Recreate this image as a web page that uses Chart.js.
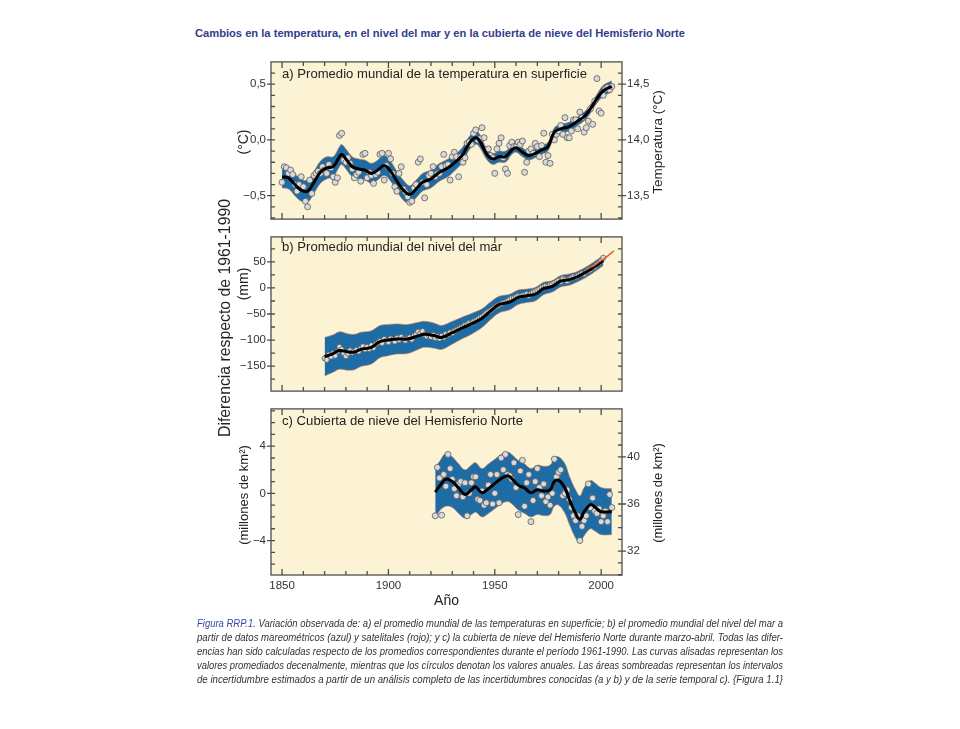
<!DOCTYPE html>
<html>
<head>
<meta charset="utf-8">
<script src="https://cdn.jsdelivr.net/npm/chart.js@4.4.1/dist/chart.umd.min.js"></script>
<style>
  body { margin: 0; background: #fff; width: 960px; height: 729px; position: relative; overflow: hidden; font-family: "Liberation Sans", Arial, sans-serif; }
  canvas { position: absolute; }
  .txt { position: absolute; white-space: nowrap; transform-origin: 0 50%; }
  .rot { position: absolute; white-space: nowrap; color: #222; transform: translate(-50%, -50%) rotate(-90deg); }
  #title { left: 195px; top: 27px; font-size: 11.5px; font-weight: bold; color: #2f3d8c; }
  .ptitle { font-size: 13.5px; color: #222; }
  .cap { font-size: 10px; font-style: italic; color: #333; left: 197px; }
  .cap b { font-weight: normal; color: #3646a0; }
</style>
</head>
<body>
<div id="title" class="txt" data-w="490">Cambios en la temperatura, en el nivel del mar y en la cubierta de nieve del Hemisferio Norte</div>

<canvas id="chartA" width="520" height="181" style="left:180px;top:50px"></canvas>
<canvas id="chartB" width="520" height="178" style="left:180px;top:225px"></canvas>
<canvas id="chartC" width="520" height="223" style="left:180px;top:397px"></canvas>

<div class="txt ptitle" data-w="305" style="left:282px;top:66px">a) Promedio mundial de la temperatura en superficie</div>
<div class="txt ptitle" data-w="220" style="left:282px;top:239px">b) Promedio mundial del nivel del mar</div>
<div class="txt ptitle" data-w="241" style="left:282px;top:413px">c) Cubierta de nieve del Hemisferio Norte</div>

<div class="rot" style="left:225px;top:318px;font-size:15.8px">Diferencia respecto de 1961-1990</div>
<div class="rot" style="left:243px;top:142px;font-size:14px">(°C)</div>
<div class="rot" style="left:243px;top:284px;font-size:14px">(mm)</div>
<div class="rot" style="left:243px;top:495px;font-size:13px">(millones de km²)</div>
<div class="rot" style="left:657px;top:142px;font-size:13.5px">Temperatura (°C)</div>
<div class="rot" style="left:657px;top:493px;font-size:13px">(millones de km²)</div>

<div class="txt cap" data-w="586" style="top:618px"><b>Figura RRP.1.</b> Variación observada de: a) el promedio mundial de las temperaturas en superficie; b) el promedio mundial del nivel del mar a</div>
<div class="txt cap" data-w="586" style="top:632px">partir de datos mareométricos (azul) y satelitales (rojo); y c) la cubierta de nieve del Hemisferio Norte durante marzo-abril. Todas las difer-</div>
<div class="txt cap" data-w="586" style="top:646px">encias han sido calculadas respecto de los promedios correspondientes durante el período 1961-1990. Las curvas alisadas representan los</div>
<div class="txt cap" data-w="586" style="top:660px">valores promediados decenalmente, mientras que los círculos denotan los valores anuales. Las áreas sombreadas representan los intervalos</div>
<div class="txt cap" data-w="586" style="top:674px">de incertidumbre estimados a partir de un análisis completo de las incertidumbres conocidas (a y b) y de la serie temporal c). {Figura 1.1}</div>

<script>
// ---- shared axis ----
const decadeTicks = [1850, 1860, 1870, 1880, 1890, 1900, 1910, 1920, 1930, 1940, 1950, 1960, 1970, 1980, 1990, 2000];
const yearLabels = [1850, 1900, 1950, 2000];

// ---- a) temperature (°C, vs 1961-1990) ----
const tempStart = 1850;
const tempAnnual = [
  -0.38, -0.24, -0.25, -0.30, -0.27, -0.31, -0.40, -0.46, -0.40, -0.33,
  -0.42, -0.55, -0.60, -0.36, -0.48, -0.32, -0.30, -0.28, -0.30, -0.24,
  -0.27, -0.30, -0.22, -0.25, -0.33, -0.38, -0.34, 0.04, 0.06, -0.18,
  -0.20, -0.16, -0.21, -0.26, -0.34, -0.31, -0.29, -0.37, -0.13, -0.12,
  -0.34, -0.29, -0.32, -0.39, -0.31, -0.29, -0.13, -0.12, -0.36, -0.23,
  -0.12, -0.17, -0.30, -0.42, -0.46, -0.30, -0.24, -0.44, -0.47, -0.51,
  -0.56, -0.55, -0.43, -0.40, -0.20, -0.17, -0.38, -0.52, -0.40, -0.32,
  -0.30, -0.24, -0.33, -0.30, -0.30, -0.24, -0.13, -0.23, -0.22, -0.36,
  -0.15, -0.11, -0.15, -0.33, -0.15, -0.20, -0.16, -0.03, -0.02, -0.04,
  0.06, 0.09, 0.00, 0.01, 0.11, 0.02, -0.09, -0.08, -0.14, -0.16,
  -0.30, -0.08, -0.03, 0.02, -0.16, -0.26, -0.30, -0.05, -0.02, -0.06,
  -0.06, -0.02, -0.04, -0.01, -0.29, -0.20, -0.10, -0.08, -0.12, -0.03,
  -0.06, -0.15, -0.05, 0.06, -0.20, -0.14, -0.21, 0.05, 0.00, 0.05,
  0.08, 0.13, 0.05, 0.20, 0.02, 0.02, 0.08, 0.18, 0.18, 0.10,
  0.25, 0.20, 0.07, 0.11, 0.17, 0.28, 0.14, 0.35, 0.55, 0.26,
  0.24, 0.40, 0.46, 0.47, 0.45, 0.48
];
const tempYears = [1850, 1853, 1856, 1859, 1862, 1865, 1868, 1871, 1874, 1877, 1878, 1880, 1883, 1886, 1889, 1892, 1895, 1898,
  1901, 1904, 1907, 1910, 1913, 1916, 1920, 1924, 1928, 1932, 1935, 1938, 1941, 1943, 1946, 1949, 1952, 1955, 1958, 1960,
  1963, 1966, 1969, 1972, 1975, 1978, 1981, 1985, 1989, 1992, 1995, 1998, 2001, 2005];
const tempSmooth = [-0.33, -0.34, -0.40, -0.45, -0.46, -0.38, -0.29, -0.25, -0.24, -0.15, -0.13, -0.17, -0.24, -0.26, -0.27, -0.30, -0.27, -0.23,
  -0.28, -0.37, -0.45, -0.49, -0.44, -0.38, -0.35, -0.29, -0.25, -0.19, -0.13, -0.03, 0.02, -0.01, -0.12, -0.17, -0.15, -0.15, -0.09, -0.07,
  -0.11, -0.14, -0.12, -0.09, -0.06, 0.07, 0.10, 0.12, 0.17, 0.21, 0.28, 0.37, 0.44, 0.48];
const tempLow = [-0.43, -0.44, -0.50, -0.55, -0.56, -0.48, -0.39, -0.35, -0.33, -0.24, -0.22, -0.26, -0.33, -0.35, -0.36, -0.39, -0.36, -0.32,
  -0.37, -0.46, -0.54, -0.57, -0.52, -0.46, -0.43, -0.37, -0.33, -0.26, -0.20, -0.09, -0.04, -0.07, -0.17, -0.22, -0.20, -0.20, -0.13, -0.11,
  -0.15, -0.18, -0.16, -0.13, -0.10, 0.03, 0.06, 0.08, 0.13, 0.17, 0.24, 0.33, 0.39, 0.43];
const tempHigh = [-0.23, -0.24, -0.30, -0.35, -0.36, -0.28, -0.19, -0.15, -0.15, -0.06, -0.04, -0.08, -0.15, -0.17, -0.18, -0.21, -0.18, -0.14,
  -0.19, -0.28, -0.36, -0.41, -0.36, -0.30, -0.27, -0.21, -0.17, -0.12, -0.06, 0.03, 0.08, 0.05, -0.07, -0.12, -0.10, -0.10, -0.05, -0.03,
  -0.07, -0.10, -0.08, -0.05, -0.02, 0.11, 0.14, 0.16, 0.21, 0.25, 0.32, 0.41, 0.49, 0.53];
const tempTicks = [-0.5, 0, 0.5];
const tempMinor = [-0.7, -0.6, -0.4, -0.3, -0.2, -0.1, 0.1, 0.2, 0.3, 0.4, 0.6];
const tempAbsTicks = [13.5, 14.0, 14.5];
const tempAbsMinor = [13.3, 13.4, 13.6, 13.7, 13.8, 13.9, 14.1, 14.2, 14.3, 14.4, 14.6];

// ---- b) sea level (mm) ----
const seaStart = 1870;
const seaAnnual = [
  -135, -138, -128, -132, -125, -130, -122, -113, -118, -126,
  -131, -126, -120, -124, -121, -119, -122, -116, -112, -118,
  -113, -117, -110, -115, -108, -105, -102, -106, -98, -101,
  -104, -97, -99, -103, -96, -100, -94, -98, -101, -97,
  -95, -99, -92, -89, -84, -87, -83, -90, -93, -91,
  -94, -90, -96, -93, -97, -92, -95, -88, -90, -85,
  -87, -82, -80, -78, -76, -74, -71, -70, -67, -68,
  -64, -62, -60, -57, -55, -52, -48, -45, -43, -40,
  -37, -35, -33, -31, -28, -27, -25, -22, -20, -19,
  -17, -15, -16, -14, -13, -12, -15, -11, -8, -6,
  -4, -2, 1, 2, 4, 3, 6, 8, 10, 12,
  14, 12, 18, 16, 13, 17, 20, 22, 21, 24,
  26, 28, 27, 31, 33, 35, 38, 40, 45, 48,
  52, 58
];
const seaYears = [1870, 1874, 1877, 1881, 1884, 1887, 1892, 1896, 1900, 1904, 1909, 1914, 1917, 1922, 1925, 1930, 1934,
  1939, 1944, 1948, 1952, 1957, 1961, 1965, 1969, 1973, 1977, 1981, 1985, 1989, 1994, 1998, 2001];
const seaSmooth = [-132, -126, -120, -123, -123, -118, -114, -103, -100, -98, -98, -92, -89, -92, -95, -86, -78,
  -69, -58, -44, -32, -27, -18, -15, -12, -1, 3, 13, 16, 22, 33, 44, 53];
const seaLow = [-169, -162, -156, -158, -157, -151, -146, -134, -130, -127, -126, -118, -114, -116, -118, -108, -99,
  -89, -76, -61, -48, -42, -32, -28, -25, -13, -8, 2, 5, 12, 23, 34, 43];
const seaHigh = [-95, -90, -84, -88, -89, -85, -82, -72, -70, -69, -70, -66, -64, -68, -72, -64, -57,
  -49, -40, -27, -16, -12, -4, -2, 1, 11, 14, 24, 27, 32, 43, 54, 63];
const satYears = [1993, 1995, 1997, 1999, 2001, 2003, 2005, 2006];
const satLevel = [36, 40, 44, 50, 55, 61, 68, 71];
const seaTicks = [-150, -100, -50, 0, 50];
const seaMinor = [-175, -125, -75, -25, 25, 75];
const seaRight = [-175, -150, -125, -100, -75, -50, -25, 0, 25, 50, 75];

// ---- c) snow cover (million km²) ----
const snowStart = 1922;
const snowAnnual = [
  -1.9, 2.2, 1.3, -1.85, 1.6, 0.6, 3.3, 2.1,
  1.2, 0.4, -0.2, 0.8, 1.0, -0.3, 0.9, -1.9, 0.0, 0.9,
  1.4, 1.4, -0.5, -0.6, 0.2, -1.0, -0.8, 0.7, 1.6, -0.9,
  0.0, 1.6, -0.8, 3.0, 2.0, 3.3, 1.6, 1.5, 1.2, 2.6,
  0.5, -1.8, 1.9, 2.8, -1.1, 0.9, 1.6, -2.4, -0.6, 1.0,
  2.1, 0.5, -0.2, 0.8, -0.7, -0.3, -1.0, 0.0, 2.9, 1.4,
  1.8, 2.0, -0.2, 0.0, 0.3, -0.5, -1.2, -1.9, -2.3, -1.9,
  -4.0, -2.8, -2.3, -1.9, 0.8, -1.2, -0.4, -1.5, -1.7, -1.3,
  -2.4, -1.9, -1.5, -2.4, -0.1, -1.2
];
const snowYears = [1922, 1924, 1927, 1930, 1933, 1936, 1939, 1941, 1944, 1947, 1950, 1953, 1956, 1958, 1961, 1964, 1967,
  1970, 1973, 1976, 1978, 1980, 1983, 1985, 1988, 1990, 1992, 1995, 1997, 2000, 2005];
const snowSmooth = [0.1, 0.6, 1.2, 1.0, 0.45, -0.1, 0.3, 0.55, 0.05, 0.4, 0.85, 1.25, 1.5, 1.25, 0.7, 0.45, 0.05,
  0.3, 0.2, 0.3, 1.0, 1.1, 0.45, -0.5, -1.7, -2.2, -1.55, -0.95, -1.15, -1.55, -1.55];
const snowLow = [-2.1, -1.5, -1.1, -1.2, -1.7, -2.1, -1.8, -1.6, -2.0, -1.7, -1.3, -0.9, -0.7, -0.9, -1.4, -1.7, -2.0,
  -1.8, -1.9, -1.8, -1.1, -1.0, -1.7, -2.6, -3.8, -4.2, -3.6, -3.0, -3.2, -3.5, -3.5];
const snowHigh = [2.2, 2.7, 3.4, 3.1, 2.5, 2.0, 2.4, 2.6, 2.1, 2.5, 2.9, 3.3, 3.5, 3.3, 2.8, 2.5, 2.1,
  2.4, 2.3, 2.4, 3.0, 3.1, 2.5, 1.5, 0.3, -0.2, 0.5, 1.1, 0.9, 0.5, 0.4];
const snowTicks = [-4, 0, 4];
const snowMinor = [-6, -5, -3, -2, -1, 1, 2, 3, 5, 6, 7];
const snowAbsTicks = [32, 36, 40];
const snowAbsMinor = [30, 31, 33, 34, 35, 37, 38, 39, 41, 42, 43];

// ---- style ----
const xMin = 1844.8, xMax = 2009.8;
const cream = '#fcf3d4';
const bandBlue = '#1d6ca6';
const bandEdge = 'rgba(215,125,85,0.75)';
const inkColor = '#333';
const tickFont = { family: '"Liberation Sans", Arial, sans-serif', size: 11.5 };

const pts = (xs, ys) => xs.map((x, i) => ({ x: x, y: ys[i] }));
const annual = (start, ys) => ys.map((y, i) => ({ x: start + i, y: y }));
const minus = s => s.replace('-', '\u2212');
const comma1 = v => minus(Number(v).toFixed(1).replace('.', ','));
const plain = v => minus(String(v));

function frame(cfg) {
  return {
    id: 'frame',
    beforeDraw(chart) {
      const { ctx, chartArea: a } = chart;
      ctx.save();
      ctx.fillStyle = cream;
      ctx.fillRect(a.left, a.top, a.right - a.left, a.bottom - a.top);
      ctx.restore();
    },
    afterDraw(chart) {
      const { ctx, chartArea: a, scales } = chart;
      ctx.save();
      ctx.strokeStyle = '#4d4d4d';
      ctx.lineWidth = 1.3;
      ctx.strokeRect(a.left, a.top, a.right - a.left, a.bottom - a.top);
      ctx.beginPath();
      decadeTicks.forEach(yr => {
        const x = scales.x.getPixelForValue(yr);
        const len = yr % 50 === 0 ? 6 : 4;
        ctx.moveTo(x, a.top); ctx.lineTo(x, a.top + len);
        ctx.moveTo(x, a.bottom); ctx.lineTo(x, a.bottom - len);
      });
      cfg.leftMajor.forEach(v => { const y = scales.y.getPixelForValue(v); ctx.moveTo(a.left - 4, y); ctx.lineTo(a.left + 4, y); });
      cfg.leftMinor.forEach(v => { const y = scales.y.getPixelForValue(v); ctx.moveTo(a.left, y); ctx.lineTo(a.left + 4, y); });
      cfg.rightMajor.forEach(v => { const y = scales.y2.getPixelForValue(v); ctx.moveTo(a.right - 4, y); ctx.lineTo(a.right + 4, y); });
      cfg.rightMinor.forEach(v => { const y = scales.y2.getPixelForValue(v); ctx.moveTo(a.right - 4, y); ctx.lineTo(a.right, y); });
      ctx.stroke();
      ctx.restore();
    }
  };
}

function yAxis(pos, min, max, labels, fmt, width, show) {
  return {
    type: 'linear', position: pos, min: min, max: max,
    grid: { display: false, drawTicks: false }, border: { display: false },
    ticks: { display: show, font: tickFont, color: inkColor, padding: 5, autoSkip: false, callback: fmt },
    afterBuildTicks: s => { s.ticks = labels.map(v => ({ value: v })); },
    afterFit: s => { s.width = width; }
  };
}

function datasets(smoothX, smooth, low, high, annualPts, radius) {
  return [
    { data: pts(smoothX, smooth), borderColor: '#000', borderWidth: 3, pointRadius: 0, tension: 0.4, order: 0 },
    { data: annualPts, showLine: false, pointRadius: radius, pointBackgroundColor: '#d9d9d9', pointBorderColor: '#5a5a5a', pointBorderWidth: 0.8, order: 1 },
    { data: pts(smoothX, high), borderColor: bandEdge, borderWidth: 0.8, backgroundColor: bandBlue, pointRadius: 0, tension: 0.4, fill: '+1', order: 3 },
    { data: pts(smoothX, low), borderColor: bandEdge, borderWidth: 0.8, pointRadius: 0, tension: 0.4, fill: false, order: 4 }
  ];
}

const baseOpts = (scales, padBottom) => ({
  responsive: false, animation: false, events: [],
  layout: { padding: { top: 3, bottom: padBottom, left: 0, right: 0 } },
  plugins: { legend: { display: false }, tooltip: { enabled: false }, filler: { drawTime: 'beforeDatasetsDraw' } },
  scales: scales
});

const hiddenX = { type: 'linear', min: xMin, max: xMax, display: false };

// a) temperature
const aMin = -0.71, aMax = 0.70;
new Chart(document.getElementById('chartA'), {
  type: 'line',
  data: { datasets: datasets(tempYears, tempSmooth, tempLow, tempHigh, annual(tempStart, tempAnnual), 3) },
  options: baseOpts({
    x: hiddenX,
    y: yAxis('left', aMin, aMax, tempTicks, comma1, 91, true),
    y2: yAxis('right', aMin + 14, aMax + 14, tempAbsTicks, comma1, 78, true)
  }, 3),
  plugins: [frame({ leftMajor: tempTicks, leftMinor: tempMinor, rightMajor: tempAbsTicks, rightMinor: tempAbsMinor })]
});

// b) sea level
const bMin = -198, bMax = 98;
const seaSets = datasets(seaYears, seaSmooth, seaLow, seaHigh, annual(seaStart, seaAnnual), 2.6);
seaSets.push({ data: pts(satYears, satLevel), borderColor: '#e0643c', borderWidth: 1.6, pointRadius: 0, tension: 0.3, order: -1 });
new Chart(document.getElementById('chartB'), {
  type: 'line',
  data: { datasets: seaSets },
  options: baseOpts({
    x: hiddenX,
    y: yAxis('left', bMin, bMax, seaTicks, plain, 91, true),
    y2: yAxis('right', bMin, bMax, [], plain, 78, false)
  }, 3),
  plugins: [frame({ leftMajor: seaTicks, leftMinor: seaMinor, rightMajor: [], rightMinor: seaRight })]
});

// c) snow cover
const cMin = -6.92, cMax = 7.16, snowOffset = 36.9;
new Chart(document.getElementById('chartC'), {
  type: 'line',
  data: { datasets: datasets(snowYears, snowSmooth, snowLow, snowHigh, annual(snowStart, snowAnnual), 3) },
  options: baseOpts({
    x: {
      type: 'linear', position: 'bottom', min: xMin, max: xMax,
      grid: { display: false, drawTicks: false }, border: { display: false },
      ticks: { font: tickFont, color: inkColor, padding: 4, autoSkip: false, maxRotation: 0, callback: v => String(v) },
      afterBuildTicks: s => { s.ticks = yearLabels.map(v => ({ value: v })); },
      afterFit: s => { s.height = 45; },
      title: { display: true, text: 'Año', font: { family: '"Liberation Sans", Arial, sans-serif', size: 14 }, color: '#222', padding: { top: 2, bottom: 10 } }
    },
    y: yAxis('left', cMin, cMax, snowTicks, plain, 91, true),
    y2: yAxis('right', cMin + snowOffset, cMax + snowOffset, snowAbsTicks, plain, 78, true)
  }, 0),
  plugins: [frame({ leftMajor: snowTicks, leftMinor: snowMinor, rightMajor: snowAbsTicks, rightMinor: snowAbsMinor })]
});

// squeeze the condensed headline and caption lines to their widths
document.querySelectorAll('[data-w]').forEach(el => {
  const w = el.getBoundingClientRect().width;
  el.style.transform = 'scaleX(' + (Number(el.dataset.w) / w) + ')';
});
</script>
</body>
</html>
